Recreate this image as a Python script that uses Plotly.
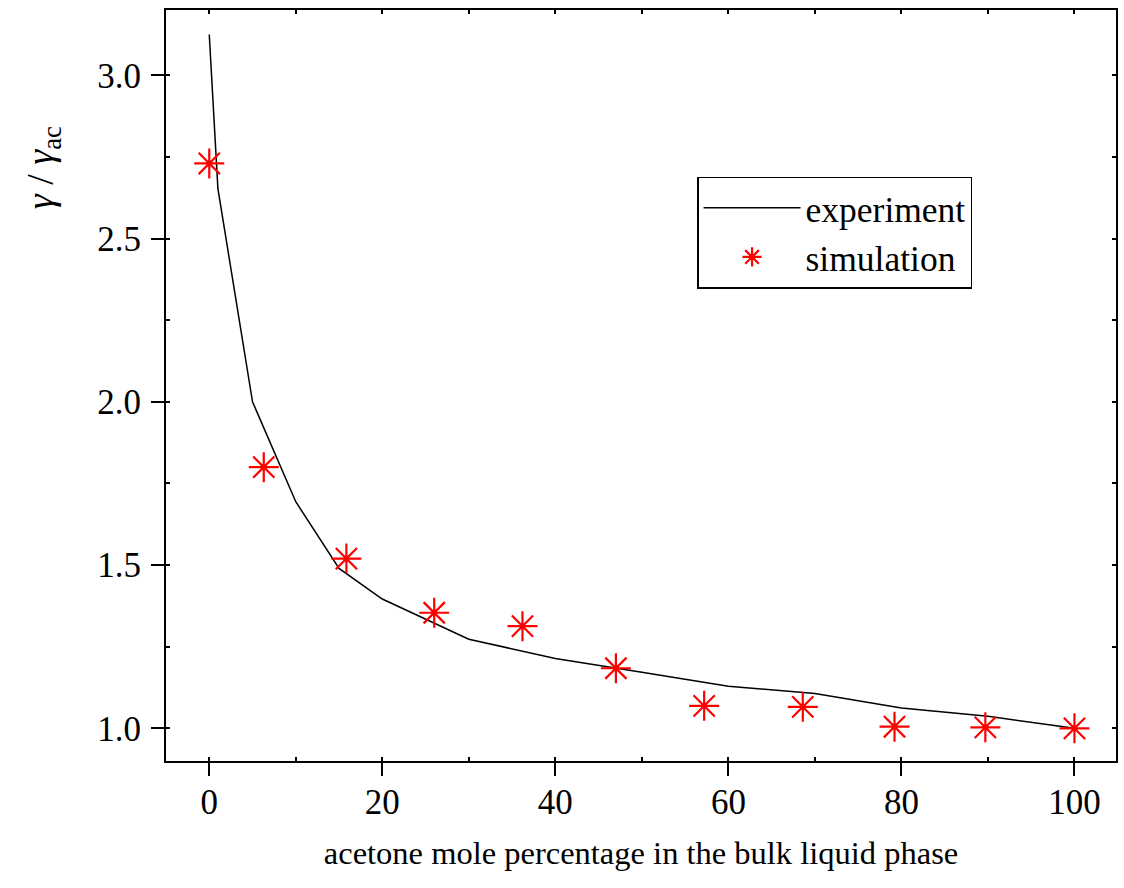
import plotly.graph_objects as go

exp_x = [0, 1, 5, 10, 15, 20, 30, 40, 50, 60, 70, 80, 90, 100]
exp_y = [3.125, 2.653, 2.0, 1.694, 1.49, 1.396, 1.273, 1.214, 1.172, 1.129, 1.107, 1.062, 1.037, 1.0]

sim_x = [0, 6.3, 15.85, 26.0, 36.2, 47.0, 57.2, 68.6, 79.2, 89.7, 100]
sim_y = [2.73, 1.80, 1.52, 1.354, 1.313, 1.184, 1.069, 1.066, 1.005, 1.003, 1.0]

x_range = [-5, 104.8]
y_range = [0.9, 3.2]

FONT = "Liberation Serif"

fig = go.Figure()
fig.add_trace(go.Scatter(x=exp_x, y=exp_y, mode="lines", name="experiment",
                         line=dict(color="black", width=1.5)))
fig.add_trace(go.Scatter(x=sim_x, y=sim_y, mode="markers", name="simulation",
                         marker=dict(symbol="asterisk-open", size=25, color="red",
                                     line=dict(color="red", width=2.2))))
# dummy trace for mirrored (top/right) tick axes
fig.add_trace(go.Scatter(x=[], y=[], xaxis="x2", yaxis="y2", showlegend=False, hoverinfo="skip"))

fig.update_layout(
    width=1124, height=888,
    margin=dict(l=166, r=6, t=10, b=127),
    plot_bgcolor="white", paper_bgcolor="white",
    font=dict(family=FONT, size=35, color="black"),
    showlegend=True,
    legend=dict(x=0.559, y=0.778, xanchor="left", yanchor="top",
                bordercolor="black", borderwidth=1.5, bgcolor="white",
                font=dict(family=FONT, size=35.5), itemwidth=97,
                tracegroupgap=0),
    xaxis=dict(range=x_range, showgrid=False, zeroline=False,
               showline=True, linecolor="black", linewidth=2, mirror=True,
               ticks="outside", ticklen=13, tickwidth=2, tickcolor="black",
               tick0=0, dtick=20, ticklabelstandoff=-4,
               minor=dict(ticks="inside", dtick=10, tick0=0, ticklen=4, tickwidth=1.5, tickcolor="black"),
               title=dict(text="acetone mole percentage in the bulk liquid phase",
                          font=dict(family=FONT, size=32.5), standoff=20)),
    yaxis=dict(range=y_range, showgrid=False, zeroline=False,
               showline=True, linecolor="black", linewidth=2, mirror=True,
               ticks="outside", ticklen=13, tickwidth=2, tickcolor="black",
               tick0=1.0, dtick=0.5, tickformat=".1f", ticklabelstandoff=3,
               minor=dict(ticks="inside", dtick=0.25, tick0=1.0, ticklen=4, tickwidth=1.5, tickcolor="black")),
    xaxis2=dict(range=x_range, overlaying="x", side="top", anchor="y",
                showgrid=False, zeroline=False, showline=False, showticklabels=False,
                ticks="inside", ticklen=4, tickwidth=1.5, tickcolor="black", tick0=0, dtick=10),
    yaxis2=dict(range=y_range, overlaying="y", side="right", anchor="x",
                showgrid=False, zeroline=False, showline=False, showticklabels=False,
                ticks="inside", ticklen=4, tickwidth=1.5, tickcolor="black", tick0=1.0, dtick=0.25),
)

fig.add_annotation(
    text="<i>γ</i> / <i>γ</i><sub>ac</sub>",
    xref="paper", yref="paper", x=-0.13, y=0.79,
    xanchor="center", yanchor="middle", textangle=-90, showarrow=False,
    font=dict(family=FONT, size=38, color="black"),
)

fig.write_html("out.html")
